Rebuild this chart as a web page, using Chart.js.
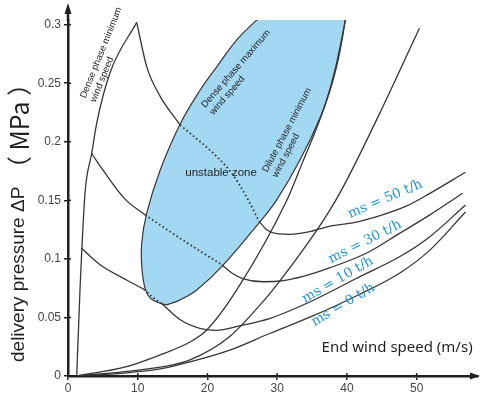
<!DOCTYPE html>
<html>
<head>
<meta charset="utf-8">
<script src="https://cdn.jsdelivr.net/npm/chart.js@4.4.1/dist/chart.umd.min.js"></script>
<style>
  html, body { margin: 0; padding: 0; background: #fff; }
</style>
</head>
<body>
<canvas id="chart" width="480" height="396"></canvas>
<script>
// axis ticks
const xTicks = [0, 10, 20, 30, 40, 50];
const yTicks = [0, 0.05, 0.1, 0.15, 0.2, 0.25, 0.3];

// dense phase minimum wind speed (left boundary)
const denseMinX = [1.25, 1.72, 2.44, 3.4, 4.12, 6.03, 9.85];
const denseMinY = [0, 0.0735, 0.156, 0.19, 0.216, 0.259, 0.302];

// ms = 50 t/h : solid, dotted (inside unstable zone), solid
const ms50aX = [9.85, 11.3, 13.2, 16.07];
const ms50aY = [0.302, 0.264, 0.239, 0.2145];
const ms50bX = [16.07, 21.33, 23.5, 25.6, 27.4];
const ms50bY = [0.2145, 0.1874, 0.173, 0.153, 0.132];
const ms50cX = [27.4, 28.6, 30, 31.85, 34.5, 37.6, 41, 44.76, 48.5, 51.9, 57];
const ms50cY = [0.132, 0.1245, 0.1215, 0.121, 0.123, 0.128, 0.131, 0.137, 0.145, 0.156, 0.174];

// ms = 30 t/h
const ms30aX = [3.4, 5, 8.18, 11.05];
const ms30aY = [0.19, 0.176, 0.151, 0.1376];
const ms30bX = [11.05, 16.5, 22.05];
const ms30bY = [0.1376, 0.116, 0.095];
const ms30cX = [22.05, 23.6, 25.15, 28, 30.9, 33.7, 37.6, 42.85, 47.6, 51.9, 56.6];
const ms30cY = [0.095, 0.0875, 0.083, 0.0805, 0.0815, 0.085, 0.0925, 0.105, 0.122, 0.1376, 0.156];

// ms = 10 t/h
const ms10aX = [1.95, 4.6, 8.4, 10.9];
const ms10aY = [0.109, 0.095, 0.082, 0.074];
const ms10bX = [10.9, 12.2, 13.5];
const ms10bY = [0.074, 0.067, 0.0615];
const ms10cX = [13.5, 16.1, 18.9, 21.3, 24.7, 29, 35.2, 41.4, 47.6, 51.9, 57];
const ms10cY = [0.0615, 0.048, 0.0407, 0.039, 0.043, 0.0493, 0.0647, 0.0835, 0.102, 0.119, 0.146];

// ms = 0 t/h
const ms0X = [1.25, 8, 13.2, 17.5, 23.2, 29, 35.2, 41.4, 47.6, 51.9, 57];
const ms0Y = [0, 0.0025, 0.006, 0.012, 0.022, 0.0365, 0.0515, 0.0685, 0.088, 0.1075, 0.14];

// dilute phase minimum wind speed
const diluteMinX = [1.25, 8.4, 13.2, 17.5, 19.9, 24.2, 31.38, 33.4, 36.9, 38.3, 39.8];
const diluteMinY = [0, 0.008, 0.018, 0.029, 0.0393, 0.0735, 0.15, 0.179, 0.232, 0.2615, 0.304];

// steep line right of the zone
const steepX = [1.25, 8.4, 13.2, 17.5, 23.24, 27.55, 29, 34.7, 37.6, 40, 45, 50.4];
const steepY = [0, 0.004, 0.0075, 0.0137, 0.034, 0.0607, 0.0707, 0.116, 0.142, 0.1675, 0.228, 0.297];

// unstable zone outline (top is cut off by the plot)
const zoneX = [14.16, 13.2, 11.8, 11.05, 10.6, 10.57, 11.29, 13.2, 16.07, 18.94, 21.33, 24.2, 27.07, 30.4, 34.7, 38.3, 39.9, 39.74, 39.0, 37.83, 36.15, 33.29, 29.94, 27.55, 22.05, 18.46, 16.07, 14.16];
const zoneY = [0.0607, 0.0621, 0.0665, 0.075, 0.092, 0.1134, 0.139, 0.1755, 0.215, 0.244, 0.264, 0.287, 0.304, 0.321, 0.337, 0.334, 0.321, 0.304, 0.277, 0.2487, 0.2205, 0.1846, 0.1504, 0.1319, 0.0934, 0.0735, 0.065, 0.0607];

const LINE = "#3a3435";
const INK = "#231f20";
const BLUE = "#1f95d6";

function pts(xs, ys) {
    return xs.map((x, i) => ({ x: x, y: ys[i] }));
}

function curve(xs, ys, dotted) {
    return {
        data: pts(xs, ys),
        borderColor: LINE,
        borderWidth: dotted ? 1.8 : 1.3,
        borderDash: dotted ? [1.6, 2.6] : [],
        pointRadius: 0,
        fill: false,
        cubicInterpolationMode: "monotone",
        order: 0
    };
}

const datasets = [
    curve(denseMinX, denseMinY),
    curve(ms50aX, ms50aY), curve(ms50bX, ms50bY, true), curve(ms50cX, ms50cY),
    curve(ms30aX, ms30aY), curve(ms30bX, ms30bY, true), curve(ms30cX, ms30cY),
    curve(ms10aX, ms10aY), curve(ms10bX, ms10bY, true), curve(ms10cX, ms10cY),
    curve(ms0X, ms0Y),
    curve(diluteMinX, diluteMinY),
    curve(steepX, steepY),
    {
        data: pts(zoneX, zoneY),
        borderColor: LINE,
        borderWidth: 1.2,
        backgroundColor: "#a3d8f3",
        fill: "shape",
        tension: 0.4,
        pointRadius: 0,
        order: 5
    }
];

// text placed in data coordinates
const notes = [
    { lines: ["Dense phase minimum", "wind speed"], x: 2.15, y: 0.2376, angle: -68, size: 9.5, align: "left", color: INK, family: "Liberation Sans" },
    { lines: ["Dense phase maximum", "wind speed"], x: 19.4, y: 0.2302, angle: -49, size: 9.5, align: "left", color: INK, family: "Liberation Sans" },
    { lines: ["Dilute phase minimum", "wind speed"], x: 28.26, y: 0.1746, angle: -62, size: 9.5, align: "left", color: INK, family: "Liberation Sans" },
    { lines: ["unstable zone"], x: 21.95, y: 0.1735, angle: 0, size: 11.5, align: "center", color: INK, family: "Liberation Sans" },
    { lines: ["End wind speed (m/s)"], x: 47.2, y: 0.024, angle: 0, size: 15, align: "center", color: INK, family: "Noto Sans" },
    { lines: ["ms = 50 t/h"], x: 45.5, y: 0.151, angle: -23, size: 13.5, align: "center", color: BLUE, family: "DejaVu Serif" },
    { lines: ["ms = 30 t/h"], x: 42.6, y: 0.1145, angle: -27, size: 13.5, align: "center", color: BLUE, family: "DejaVu Serif" },
    { lines: ["ms = 10 t/h"], x: 38.7, y: 0.082, angle: -30, size: 13.5, align: "center", color: BLUE, family: "DejaVu Serif" },
    { lines: ["ms = 0 t/h"], x: 39.45, y: 0.0607, angle: -31, size: 13.5, align: "center", color: BLUE, family: "DejaVu Serif" }
];

// y axis title, drawn in pieces with their own size
const yTitle = [
    { text: "delivery pressure ", font: "19px 'Liberation Sans'" },
    { text: "ΔP", font: "19px 'Liberation Sans'" },
    { text: " （ MPa ）", font: "25px 'Noto Sans CJK SC'" }
];

const decor = {
    id: "decor",
    afterDraw(chart) {
        const ctx = chart.ctx;
        const a = chart.chartArea;
        const sx = chart.scales.x, sy = chart.scales.y;
        ctx.save();
        // axis arrows
        ctx.fillStyle = INK;
        ctx.strokeStyle = INK;
        ctx.lineWidth = 2.5;
        ctx.beginPath();
        ctx.moveTo(a.left, a.top + 1);
        ctx.lineTo(a.left, a.top - 8);
        ctx.stroke();
        ctx.beginPath();
        ctx.moveTo(a.left, 3);
        ctx.lineTo(a.left - 3.5, 14);
        ctx.lineTo(a.left + 3.5, 14);
        ctx.closePath();
        ctx.fill();
        ctx.beginPath();
        ctx.moveTo(480, a.bottom);
        ctx.lineTo(470, a.bottom - 3.5);
        ctx.lineTo(470, a.bottom + 3.5);
        ctx.closePath();
        ctx.fill();

        // inner half of the tick marks
        ctx.lineWidth = 1.5;
        yTicks.forEach(v => {
            const p = sy.getPixelForValue(v);
            ctx.beginPath();
            ctx.moveTo(a.left, p);
            ctx.lineTo(a.left + 3, p);
            ctx.stroke();
        });
        xTicks.forEach(v => {
            const p = sx.getPixelForValue(v);
            ctx.beginPath();
            ctx.moveTo(p, a.bottom);
            ctx.lineTo(p, a.bottom - 3);
            ctx.stroke();
        });

        // y title
        ctx.translate(19, sy.getPixelForValue(0) - 14);
        ctx.rotate(-Math.PI / 2);
        ctx.textAlign = "left";
        ctx.textBaseline = "middle";
        let off = 0;
        yTitle.forEach(p => {
            ctx.font = p.font;
            ctx.fillText(p.text, off, 0);
            off += ctx.measureText(p.text).width;
        });
        ctx.restore();

        notes.forEach(n => {
            ctx.save();
            ctx.translate(sx.getPixelForValue(n.x), sy.getPixelForValue(n.y));
            ctx.rotate(n.angle * Math.PI / 180);
            ctx.font = n.size + "px '" + n.family + "'";
            ctx.fillStyle = n.color;
            ctx.textAlign = n.align;
            ctx.textBaseline = "middle";
            n.lines.forEach((t, i) => ctx.fillText(t, 0, i * n.size * 1.15));
            ctx.restore();
        });
    }
};

new Chart(document.getElementById("chart").getContext("2d"), {
    type: "line",
    data: { datasets },
    options: {
        responsive: false,
        devicePixelRatio: 1,
        animation: false,
        events: [],
        layout: { padding: { top: 20, right: 2, left: 0, bottom: 0 } },
        plugins: { legend: { display: false }, tooltip: { enabled: false } },
        scales: {
            x: {
                type: "linear",
                min: 0,
                max: 58.8,
                afterFit: s => { s.height = 20; },
                afterBuildTicks: s => { s.ticks = xTicks.map(v => ({ value: v })); },
                grid: { drawOnChartArea: false, drawTicks: true, tickLength: 4, color: INK, lineWidth: 1.5 },
                border: { color: INK, width: 2.5 },
                ticks: { color: "#444", font: { size: 12, family: "Liberation Sans" }, padding: 1, maxRotation: 0, callback: v => v }
            },
            y: {
                type: "linear",
                min: 0,
                max: 0.304,
                afterFit: s => { s.width = 68; },
                afterBuildTicks: s => { s.ticks = yTicks.map(v => ({ value: v })); },
                grid: { drawOnChartArea: false, drawTicks: true, tickLength: 4, color: INK, lineWidth: 1.5 },
                border: { color: INK, width: 2.5 },
                ticks: { color: "#444", font: { size: 12, family: "Liberation Sans" }, padding: 3, callback: v => v }
            }
        }
    },
    plugins: [decor]
});
</script>
</body>
</html>
